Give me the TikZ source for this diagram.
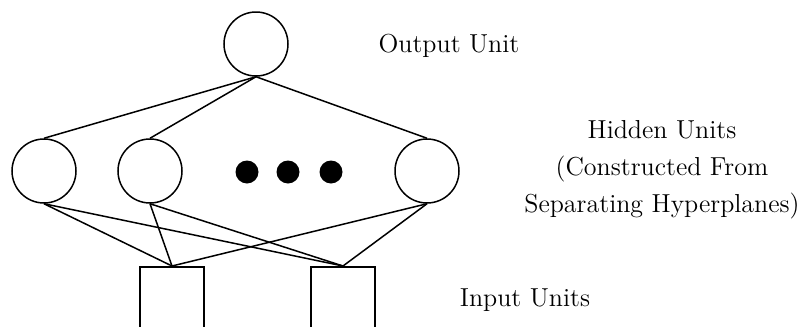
\documentclass[tikz,border=0pt]{standalone}
\usepackage{tikz}
\usetikzlibrary{positioning}
\usetikzlibrary{calc}

\begin{document}
\begin{tikzpicture}[x=0.5pt, y=-0.5pt, line width=0.75pt,
    unit/.style={circle, draw, minimum size=32pt, inner sep=0pt},
    inbox/.style={rectangle, draw, minimum width=32pt, minimum height=40pt, anchor=north, inner sep=0pt},
    dot/.style={circle, fill=black, minimum size=11.5pt, inner sep=0pt},
    caption/.style={font=\fontsize{13}{18.5}\selectfont, align=center}]
        \useasboundingbox (0,0) rectangle (805,327);
        \clip (0,0) rectangle (805,327);

        \node[unit] (out) at (256, 44) {};

        \node[unit] (h1) at (44, 171) {};
        \node[unit] (h2) at (150, 171) {};
        \node[unit] (h3) at (427, 171) {};

        \node[dot] (d1) at (247, 172) {};
        \node[dot] (d2) at (288, 172) {};
        \node[dot] (d3) at (331, 172) {};

        \node[inbox] (in1) at (172, 266) {};
        \node[inbox] (in2) at (343, 266) {};

        \foreach \h in {h1, h2, h3} {
          \draw (out.south) -- (\h.north);
          \foreach \i in {in1, in2}
            \draw (\h.south) -- (\i.north);
        }

        \node[caption] (outlabel) at (449, 46) {Output Unit};
        \node[caption] (hidlabel) at (662, 170) {Hidden Units\\(Constructed From\\Separating Hyperplanes)};
        \node[caption] (inlabel) at (525, 300) {Input Units};
      \end{tikzpicture}
\end{document}
